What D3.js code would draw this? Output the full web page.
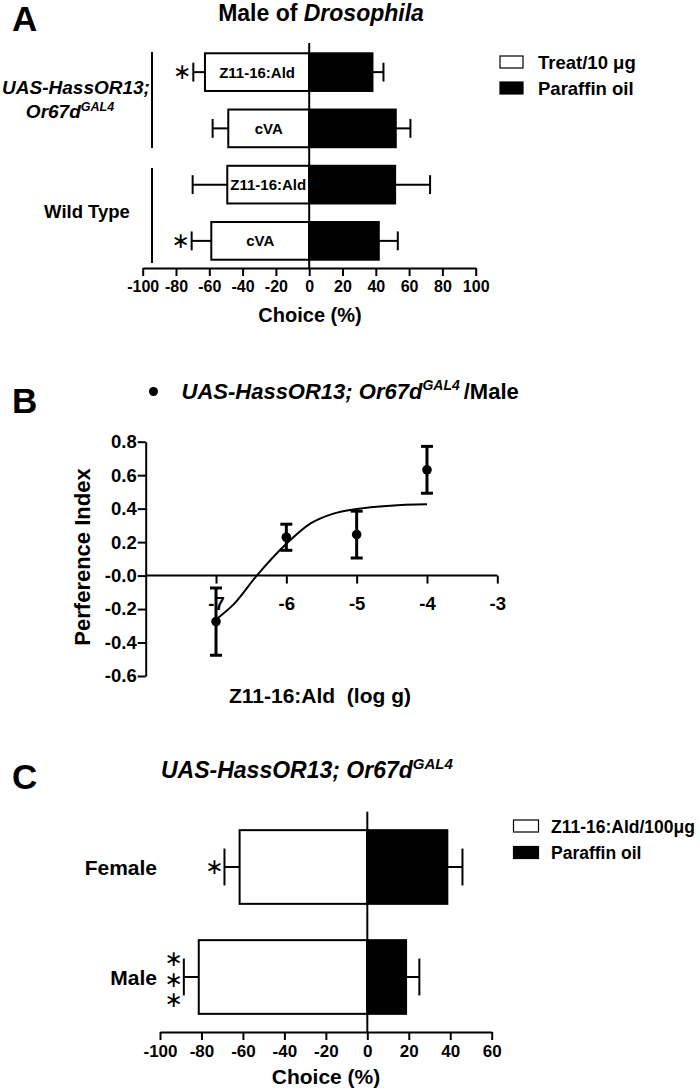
<!DOCTYPE html>
<html><head><meta charset="utf-8">
<script src="https://cdn.jsdelivr.net/npm/d3@7"></script>
<style>
html,body{margin:0;padding:0;background:#fff;}
svg{display:block;font-family:"Liberation Sans",Arial,sans-serif;font-weight:bold;}
</style></head>
<body><svg id="c" width="700" height="1091"></svg>
<script>
// ---------- Panel A data ----------
const rowsA = ["Z11-16:Ald", "cVA", "Z11-16:Ald", "cVA"];
const treatA = [-62.6, -48.6, -49.2, -58.8];
const treatErrA = [7.0, 9.4, 20.8, 11.8];
const oilA = [38.0, 52.0, 51.6, 41.8];
const oilErrA = [6.6, 8.8, 21.0, 11.4];
const sigA = [1, 0, 0, 1];
const ticksA = [-100, -80, -60, -40, -20, 0, 20, 40, 60, 80, 100];
const legendA = ["Treat/10 μg", "Paraffin oil"];

// ---------- Panel B data ----------
const dosesB = [-7, -6, -5, -4];
const piB = [-0.275, 0.229, 0.245, 0.632];
const semB = [0.201, 0.078, 0.140, 0.140];
const fitX = [-7, -6.75, -6.42, -6, -5.66, -5.33, -5, -4.52, -4];
const fitY = [-0.262, -0.172, 0, 0.19, 0.31, 0.37, 0.398, 0.418, 0.426];
const yTicksB = [0.8, 0.6, 0.4, 0.2, 0, -0.2, -0.4, -0.6];
const yTickLabelsB = ["0.8", "0.6", "0.4", "0.2", "-0.0", "-0.2", "-0.4", "-0.6"];
const xTicksB = [-7, -6, -5, -4, -3];

// ---------- Panel C data ----------
const rowsC = ["Female", "Male"];
const treatC = [-61.6, -81.3];
const treatErrC = [7.3, 7.2];
const oilC = [38.6, 18.7];
const oilErrC = [7.3, 6.4];
const sigC = [1, 3];
const ticksC = [-100, -80, -60, -40, -20, 0, 20, 40, 60];
const legendC = ["Z11-16:Ald/100μg", "Paraffin oil"];

const svg = d3.select("#c");
const SW = 2;
const hy = d => String(d); // hyphen-minus labels as in the original

function styleAxis(g, fs) {
  g.select(".domain").attr("stroke-width", SW);
  g.selectAll(".tick line").attr("stroke-width", SW);
  g.selectAll(".tick text").attr("font-size", fs).attr("font-weight", "bold")
    .attr("font-family", '"Liberation Sans",Arial,sans-serif').attr("fill", "#000");
}

function asterisks(g, x, y, fs, n) {
  if (n < 1) return;
  if (n === 1) {
    g.append("text").attr("x", x).attr("y", y + fs * 0.32).attr("text-anchor", "middle")
      .attr("font-family", "DejaVu Sans").attr("font-weight", "normal").attr("font-size", fs).text("\u2217");
  } else {
    // stacked column of stars as one vertical text
    g.append("text").attr("x", x).attr("y", y).attr("text-anchor", "middle")
      .style("writing-mode", "vertical-rl").style("text-orientation", "upright")
      .style("letter-spacing", "-4.5px")
      .attr("font-family", "DejaVu Sans").attr("font-weight", "normal").attr("font-size", fs)
      .text("\u2217".repeat(n));
  }
}

function barPanel(opts) {
  const g = svg.append("g");
  const x = d3.scaleLinear().domain(opts.domain).range(opts.xr);
  const y = d3.scaleBand().domain(d3.range(opts.rows.length)).range(opts.yr)
    .paddingInner(0.33).paddingOuter(0.165);
  const bw = y.bandwidth();
  opts.rows.forEach((r, i) => {
    const y0 = y(i), yc = y0 + bw / 2;
    g.append("rect").attr("x", x(opts.treat[i])).attr("y", y0)
      .attr("width", x(0) - x(opts.treat[i])).attr("height", bw)
      .attr("fill", "#fff").attr("stroke", "#000").attr("stroke-width", SW);
    g.append("rect").attr("x", x(0)).attr("y", y0)
      .attr("width", x(opts.oil[i]) - x(0)).attr("height", bw)
      .attr("fill", "#000").attr("stroke", "#000").attr("stroke-width", SW);
    const te = opts.treat[i] - opts.treatErr[i], oe = opts.oil[i] + opts.oilErr[i];
    g.append("line").attr("x1", x(te)).attr("x2", x(opts.treat[i])).attr("y1", yc).attr("y2", yc)
      .attr("stroke", "#000").attr("stroke-width", SW);
    g.append("line").attr("x1", x(te)).attr("x2", x(te)).attr("y1", yc - bw / 4).attr("y2", yc + bw / 4)
      .attr("stroke", "#000").attr("stroke-width", SW);
    g.append("line").attr("x1", x(opts.oil[i])).attr("x2", x(oe)).attr("y1", yc).attr("y2", yc)
      .attr("stroke", "#000").attr("stroke-width", SW);
    g.append("line").attr("x1", x(oe)).attr("x2", x(oe)).attr("y1", yc - bw / 4).attr("y2", yc + bw / 4)
      .attr("stroke", "#000").attr("stroke-width", SW);
    if (opts.inner) {
      g.append("text").attr("x", (x(opts.treat[i]) + x(0)) / 2).attr("y", yc + 5.5)
        .attr("text-anchor", "middle").attr("font-size", 15).text(opts.inner[i]);
    }
    asterisks(g, x(te) - opts.sigOff, yc, 22, opts.sig[i]);
  });
  g.append("line").attr("x1", x(0)).attr("x2", x(0)).attr("y1", opts.zeroTop).attr("y2", opts.axisY)
    .attr("stroke", "#000").attr("stroke-width", SW);
  const ax = g.append("g").attr("transform", `translate(0,${opts.axisY})`)
    .call(d3.axisBottom(x).tickValues(opts.ticks).tickFormat(hy).tickSize(8).tickSizeOuter(0).tickPadding(5));
  styleAxis(ax, opts.tickFs);
  return {x, y};
}

// ================= Panel A =================
svg.append("text").attr("x", 12).attr("y", 31).attr("font-size", 35).text("A");
const tA = svg.append("text").attr("x", 321).attr("y", 21).attr("text-anchor", "middle").attr("font-size", 23);
tA.append("tspan").text("Male of ");
tA.append("tspan").attr("font-style", "italic").text("Drosophila");

barPanel({
  domain: [-100, 100], xr: [142.7, 475.7], yr: [44, 269], rows: rowsA,
  treat: treatA, treatErr: treatErrA, oil: oilA, oilErr: oilErrA,
  inner: rowsA, zeroTop: 43, axisY: 268, ticks: ticksA, tickFs: 16,
  sig: sigA, sigOff: 11
});
[[52, 148], [168, 263]].forEach(([a, b]) => {
  svg.append("line").attr("x1", 152).attr("x2", 152).attr("y1", a).attr("y2", b)
    .attr("stroke", "#000").attr("stroke-width", SW);
});
svg.append("text").attr("x", 76).attr("y", 94).attr("text-anchor", "middle")
  .attr("font-size", 19).attr("font-style", "italic").text("UAS-HassOR13;");
const gl = svg.append("text").attr("x", 70).attr("y", 118).attr("text-anchor", "middle")
  .attr("font-size", 19).attr("font-style", "italic");
gl.append("tspan").text("Or67d");
gl.append("tspan").attr("font-size", 12.5).attr("dy", -7).text("GAL4");
svg.append("text").attr("x", 87).attr("y", 218).attr("text-anchor", "middle")
  .attr("font-size", 18.5).text("Wild Type");
svg.append("text").attr("x", 310).attr("y", 322).attr("text-anchor", "middle")
  .attr("font-size", 20).text("Choice (%)");
legendA.forEach((t, i) => {
  svg.append("rect").attr("x", 500).attr("y", 56 + i * 26).attr("width", 23).attr("height", 12)
    .attr("fill", i ? "#000" : "#fff").attr("stroke", "#000").attr("stroke-width", 1.2);
  svg.append("text").attr("x", 538).attr("y", 68.5 + i * 26).attr("font-size", 18.5).text(t);
});

// ================= Panel B =================
svg.append("text").attr("x", 12).attr("y", 413).attr("font-size", 35).text("B");
svg.append("circle").attr("cx", 153.5).attr("cy", 391.5).attr("r", 4.5).attr("fill", "#000");
const tB = svg.append("text").attr("x", 181.5).attr("y", 399).attr("font-size", 22);
tB.append("tspan").attr("font-style", "italic").text("UAS-HassOR13; Or67d");
tB.append("tspan").attr("font-style", "italic").attr("font-size", 14).attr("dy", -9).text("GAL4");
tB.append("tspan").attr("dy", 9).attr("dx", 4).text("/Male");

const xB = d3.scaleLinear().domain([-8, -3]).range([145.7, 497.3]);
const yB = d3.scaleLinear().domain([-0.6, 0.8]).range([676, 441.7]);
const gB = svg.append("g");
const yax = gB.append("g").attr("transform", `translate(${xB(-8)},0)`)
  .call(d3.axisLeft(yB).tickValues(yTicksB).tickFormat((d, i) => yTickLabelsB[i])
    .tickSize(8).tickSizeOuter(0).tickPadding(1));
styleAxis(yax, 18.5);
const xax = gB.append("g").attr("transform", `translate(0,${yB(0)})`)
  .call(d3.axisBottom(xB).tickValues(xTicksB).tickFormat(hy)
    .tickSize(8).tickSizeOuter(0).tickPadding(13));
styleAxis(xax, 18.5);
xax.select(".domain").attr("d", `M${xB(-8)},0H${xB(-3)}`);
gB.append("path").datum(fitX.map((v, i) => [v, fitY[i]]))
  .attr("d", d3.line().x(d => xB(d[0])).y(d => yB(d[1])).curve(d3.curveMonotoneX))
  .attr("fill", "none").attr("stroke", "#000").attr("stroke-width", 2);
dosesB.forEach((d, i) => {
  const cx = xB(d), t = yB(piB[i] + semB[i]), b = yB(piB[i] - semB[i]);
  gB.append("line").attr("x1", cx).attr("x2", cx).attr("y1", t).attr("y2", b).attr("stroke", "#000").attr("stroke-width", 3);
  [t, b].forEach(yy => gB.append("line").attr("x1", cx - 6).attr("x2", cx + 6).attr("y1", yy).attr("y2", yy)
    .attr("stroke", "#000").attr("stroke-width", 3));
  gB.append("circle").attr("cx", cx).attr("cy", yB(piB[i])).attr("r", 4.8).attr("fill", "#000");
});
svg.append("text").attr("transform", "translate(90,557) rotate(-90)").attr("text-anchor", "middle")
  .attr("font-size", 22).text("Perference Index");
svg.append("text").attr("x", 320).attr("y", 703).attr("text-anchor", "middle").attr("font-size", 21)
  .attr("xml:space", "preserve").style("white-space", "pre").text("Z11-16:Ald  (log g)");

// ================= Panel C =================
svg.append("text").attr("x", 12).attr("y", 789).attr("font-size", 35).text("C");
const tC = svg.append("text").attr("x", 161).attr("y", 778).attr("font-size", 23).attr("font-style", "italic");
tC.append("tspan").text("UAS-HassOR13; Or67d");
tC.append("tspan").attr("font-size", 15).attr("dy", -9).text("GAL4");

const pC = barPanel({
  domain: [-100, 60], xr: [160, 491.7], yr: [812, 1032], rows: rowsC,
  treat: treatC, treatErr: treatErrC, oil: oilC, oilErr: oilErrC,
  inner: null, zeroTop: 811.7, axisY: 1032, ticks: ticksC, tickFs: 17,
  sig: sigC, sigOff: 10
});
rowsC.forEach((r, i) => {
  svg.append("text").attr("x", 157).attr("y", pC.y(i) + pC.y.bandwidth() / 2 + 7.5)
    .attr("text-anchor", "end").attr("font-size", 21).text(r);
});
svg.append("text").attr("x", 326).attr("y", 1084).attr("text-anchor", "middle")
  .attr("font-size", 21).text("Choice (%)");
legendC.forEach((t, i) => {
  svg.append("rect").attr("x", 513.5).attr("y", 820 + i * 26.5).attr("width", 25).attr("height", 12)
    .attr("fill", i ? "#000" : "#fff").attr("stroke", "#000").attr("stroke-width", 1.2);
  svg.append("text").attr("x", 551).attr("y", 832.5 + i * 26.5).attr("font-size", 17.5).text(t);
});
</script></body></html>
